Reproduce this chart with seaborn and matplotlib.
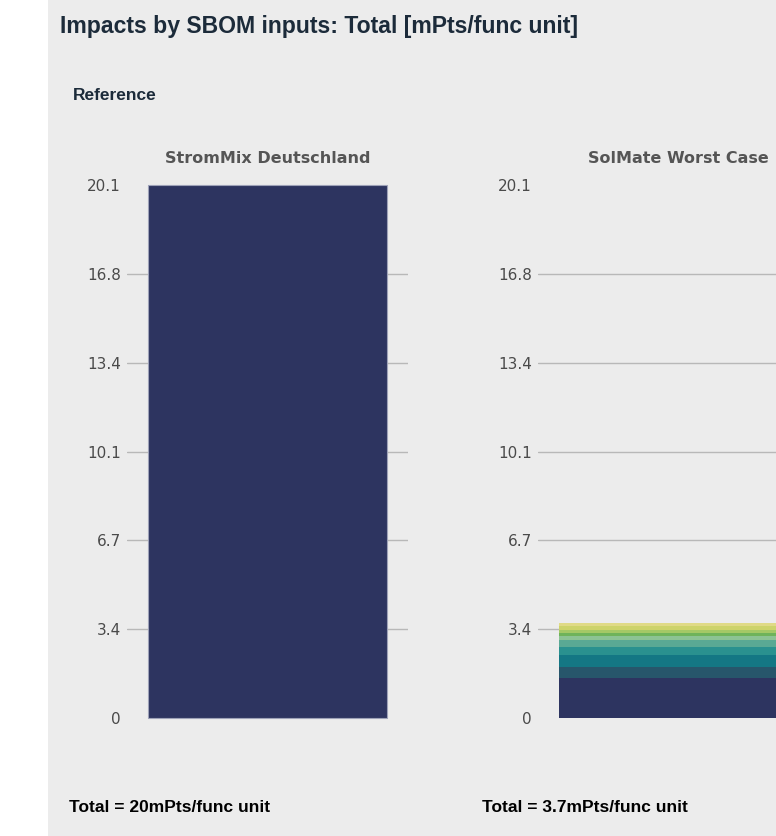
import matplotlib
matplotlib.use("Agg")
import matplotlib.pyplot as plt
import seaborn as sns
import pandas as pd

# ---------------- data ----------------
panel_titles = ["StromMix Deutschland", "SolMate Worst Case"]
total_labels = ["Total = 20mPts/func unit", "Total = 3.7mPts/func unit"]

strommix_value = [20.1]

solmate_segments = [1.50, 0.44, 0.44, 0.31, 0.25, 0.16, 0.09, 0.13, 0.15, 0.10]
solmate_colors = ["#2d3460", "#27566b", "#147784", "#2a918f", "#5aa994",
                  "#8cc394", "#6fb35a", "#a4c866", "#cdd36a", "#e0da86"]

ytick_values = [0, 3.35, 6.7, 10.05, 13.4, 16.75, 20.1]
ytick_labels = ["0", "3.4", "6.7", "10.1", "13.4", "16.8", "20.1"]

# ---------------- style ----------------
sns.set_style("white")
plt.rcParams["font.family"] = ["DejaVu Sans"]

W, H = 776, 836
fig = plt.figure(figsize=(W / 100, H / 100), dpi=100)
fig.patch.set_facecolor("white")

# grey panel background
fig.patches.append(plt.Rectangle((48 / W, 0), 1 - 48 / W, 1, transform=fig.transFigure,
                                 facecolor="#ececec", edgecolor="none", zorder=-10))

def px(x, y):
    return x / W, 1 - y / H

hdr = ["Liberation Sans", "DejaVu Sans"]
fig.text(*px(60, 33), "Impacts by SBOM inputs: Total [mPts/func unit]", family=hdr,
         fontsize=16.6, fontweight="bold", color="#1c2b3a", va="baseline", ha="left")
fig.text(*px(73, 100), "Reference", family=hdr, fontsize=12.5, fontweight="bold",
         color="#1c2b3a", va="baseline", ha="left")

ax_bottom = (H - 718) / H
ax_height = 533 / H
ax_w = 281 / W
lefts = [127 / W, 538 / W]

axes = []
for i, left in enumerate(lefts):
    ax = fig.add_axes([left, ax_bottom, ax_w, ax_height])
    ax.set_facecolor("none")
    axes.append(ax)

# panel 1: single bar
df1 = pd.DataFrame({"cat": [panel_titles[0]], "value": strommix_value})
sns.barplot(data=df1, x="cat", y="value", ax=axes[0], color="#2d3460",
            width=0.854, saturation=1, edgecolor="#9ea2b8", linewidth=0.8)

# panel 2: stacked segments
bottom = 0.0
for val, col in zip(solmate_segments, solmate_colors):
    df2 = pd.DataFrame({"cat": [panel_titles[1]], "value": [val]})
    sns.barplot(data=df2, x="cat", y="value", ax=axes[1], color=col,
                width=0.854, saturation=1, bottom=bottom, linewidth=0)
    bottom += val

for i, ax in enumerate(axes):
    ax.set_xlim(-0.5, 0.5)
    ax.set_ylim(0, 20.1)
    for p in ax.patches:
        p.set_clip_on(False)
    ax.set_xlabel("")
    ax.set_ylabel("")
    ax.set_xticks([])
    ax.set_yticks(ytick_values)
    ax.set_yticklabels(ytick_labels)
    ax.tick_params(axis="y", length=0, pad=4.5, labelsize=11, labelcolor="#4a4a4a")
    for s in ax.spines.values():
        s.set_visible(False)
    ax.yaxis.grid(True, color="#b8b8b8", linewidth=1)
    ax.set_axisbelow(True)
    gls = ax.get_ygridlines()
    gls[0].set_visible(False)
    gls[-1].set_visible(False)
    ax.set_title(panel_titles[i], pad=15.8, fontsize=11.5, fontweight="bold",
                 color="#555555")

fig.text(*px(69, 812), total_labels[0], family=hdr, fontsize=12.5, fontweight="bold",
         color="#000000", va="baseline", ha="left")
fig.text(*px(482, 812), total_labels[1], family=hdr, fontsize=12.5, fontweight="bold",
         color="#000000", va="baseline", ha="left")

fig.savefig("out.png", dpi=100, facecolor=fig.get_facecolor())
